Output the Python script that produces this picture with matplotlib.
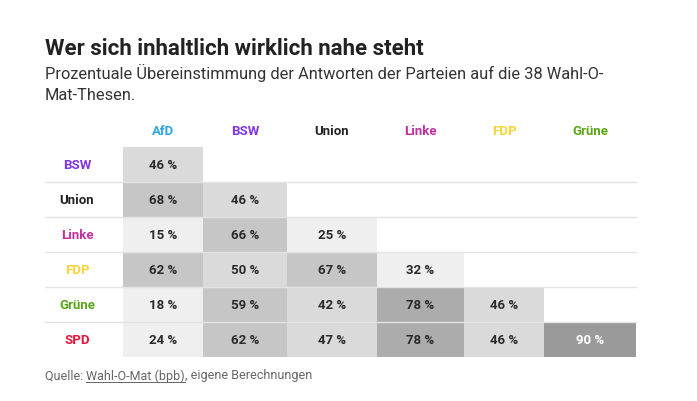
import matplotlib
matplotlib.use("Agg")
import matplotlib.pyplot as plt

# data
col_parties = ["AfD", "BSW", "Union", "Linke", "FDP", "Grüne"]
row_parties = ["BSW", "Union", "Linke", "FDP", "Grüne", "SPD"]
agreement = [
    [46],
    [68, 46],
    [15, 66, 25],
    [62, 50, 67, 32],
    [18, 59, 42, 78, 46],
    [24, 62, 47, 78, 46, 90],
]
party_colors = {
    "AfD": "#2ea6e6",
    "BSW": "#7f35e0",
    "Union": "#222222",
    "Linke": "#c42f9e",
    "FDP": "#f5d53a",
    "Grüne": "#5aa519",
    "SPD": "#e3183c",
}

title = "Wer sich inhaltlich wirklich nahe steht"
subtitle = "Prozentuale Übereinstimmung der Antworten der Parteien auf die 38 Wahl-O-\nMat-Thesen."

# layout (pixels)
W, H = 697, 402
col_edges = [123, 203, 287, 377, 464, 544, 636]
row_top = 148
row_h = 35
label_x = 77
table_left = 45


def cell_color(v):
    if v < 40:
        return "#efefef"
    if v < 55:
        return "#dadada"
    if v < 70:
        return "#c6c6c6"
    if v < 85:
        return "#acacac"
    return "#9a9a9a"


plt.rcParams["font.family"] = ["Roboto", "DejaVu Sans"]
fig = plt.figure(figsize=(W / 100, H / 100), dpi=100)
ax = fig.add_axes([0, 0, 1, 1])
ax.set_xlim(0, W)
ax.set_ylim(H, 0)
ax.axis("off")

ax.text(45, 55, title, fontsize=16, fontweight="bold",
        color="#222222", ha="left", va="baseline")
ax.text(45, 100, subtitle, fontsize=11.8, color="#333333",
        ha="left", va="baseline", linespacing=1.5)

# header
for j, p in enumerate(col_parties):
    cx = (col_edges[j] + col_edges[j + 1]) / 2
    ax.text(cx, 132, p, fontsize=9.5, fontweight="bold", color=party_colors[p],
            ha="center", va="center")

# rows
for i, p in enumerate(row_parties):
    top = row_top + i * row_h
    cy = top + row_h / 2
    ax.text(label_x, cy, p, fontsize=9.5, fontweight="bold", color=party_colors[p],
            ha="center", va="center")
    vals = agreement[i]
    lefts = col_edges[:len(vals)]
    widths = [col_edges[k + 1] - col_edges[k] for k in range(len(vals))]
    ax.bar(lefts, [row_h] * len(vals), width=widths, bottom=top, align="edge",
           color=[cell_color(v) for v in vals], linewidth=0, zorder=1)
    for k, v in enumerate(vals):
        cx = lefts[k] + widths[k] / 2
        tc = "white" if v >= 85 else "#2a2a2a"
        ax.text(cx, cy, f"{v} %", fontsize=9.5, fontweight="bold", color=tc,
                ha="center", va="center", zorder=3)
    if i < len(row_parties) - 1:
        ax.plot([table_left, col_edges[-1]], [top + row_h, top + row_h],
                color="#e3e3e3", lw=1, zorder=2)

# source
src_y = 376
t1 = ax.text(45, src_y, "Quelle: ", fontsize=9, color="#666666", ha="left", va="center")
fig.canvas.draw()
inv = ax.transData.inverted()
x1 = inv.transform((t1.get_window_extent().x1, 0))[0]
t2 = ax.text(x1, src_y, "Wahl-O-Mat (bpb)", fontsize=9, color="#666666",
             ha="left", va="center")
fig.canvas.draw()
bb2 = t2.get_window_extent()
x2a = inv.transform((bb2.x0, 0))[0]
x2b = inv.transform((bb2.x1, 0))[0]
ax.plot([x2a, x2b], [src_y + 7, src_y + 7], color="#666666", lw=0.7)
ax.text(x2b, src_y, ", eigene Berechnungen", fontsize=9, color="#666666",
        ha="left", va="center")

fig.savefig("out.png", dpi=100)
